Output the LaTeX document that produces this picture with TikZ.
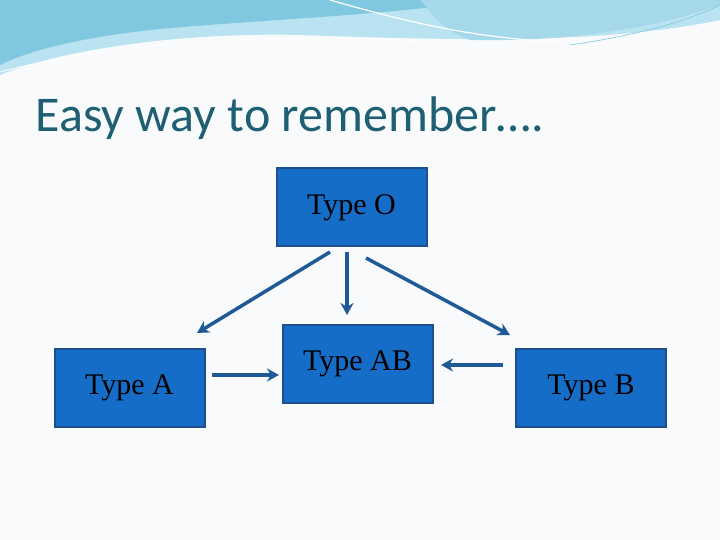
\documentclass[tikz,border=0pt]{standalone}
\usepackage{fontspec}
\usetikzlibrary{arrows.meta}
\setmainfont{Liberation Serif}
\newfontfamily\titlefont{Carlito}
\begin{document}
\begin{tikzpicture}[x=1pt,y=-1pt,
  box/.style={draw=boxedge,line width=2pt,fill=boxfill,minimum width=150pt,minimum height=78pt,inner sep=0pt,text=black,font=\fontsize{30}{34}\selectfont},
  arr/.style={draw=arrowc,line width=3.5pt,-{Stealth[length=12pt,width=13pt]}}]
\definecolor{boxfill}{HTML}{166DC8}
\definecolor{boxedge}{HTML}{1F4E8C}
\definecolor{arrowc}{HTML}{1F5A96}
\definecolor{titlec}{HTML}{1E5F74}
\definecolor{bg}{HTML}{F8FAFC}
\definecolor{wave1}{HTML}{7FC8E0}
\definecolor{wave2}{HTML}{B9E3F0}
\useasboundingbox (0,0) rectangle (720,540);
\fill[bg] (0,0) rectangle (720,540);
% header waves
\fill[wave2] (0,0) -- (720,0) -- (720,20) .. controls (600,45) and (450,40) .. (300,35) .. controls (180,32) and (60,50) .. (0,75) -- cycle;
\fill[wave1] (0,0) -- (480,0) .. controls (400,15) and (250,20) .. (150,30) .. controls (80,38) and (30,50) .. (0,65) -- cycle;
\fill[wave1!70] (420,0) -- (720,0) -- (720,5) .. controls (650,30) and (560,42) .. (470,40) .. controls (440,30) and (430,10) .. (420,0) -- cycle;
\draw[white,line width=1.2pt] (330,0) .. controls (400,20) and (470,38) .. (560,42);
\draw[white,line width=0.8pt] (0,72) .. controls (120,40) and (300,30) .. (480,45);
\draw[wave1,line width=0.6pt] (570,45) .. controls (640,35) and (690,20) .. (720,5);
\node[anchor=west,text=titlec,font=\titlefont\fontsize{50}{56}\selectfont] (title) at (32,118) {Easy way to remember\dots.};
\node[box] (o) at (351.5,207) {};
\node[font=\fontsize{30}{34}\selectfont] (ot) at (351.5,208) {Type O};
\node[box] (a) at (129.5,387.5) {Type A};
\node[box] (ab) at (357.5,363.5) {};
\node[font=\fontsize{30}{34}\selectfont] (abt) at (357.5,364) {Type AB};
\node[box] (b) at (591,387.5) {Type B};
\coordinate (o1) at (330,252); \coordinate (a1) at (197,333);
\coordinate (o2) at (347,252); \coordinate (ab1) at (347,315);
\coordinate (o3) at (366,258); \coordinate (b1) at (510,335);
\coordinate (a2) at (212,375); \coordinate (ab2) at (279,375);
\coordinate (b2) at (503,365); \coordinate (ab3) at (441,365);
\draw[arr] (o1) -- (a1);
\draw[arr] (o2) -- (ab1);
\draw[arr] (o3) -- (b1);
\draw[arr] (a2) -- (ab2);
\draw[arr] (b2) -- (ab3);
\end{tikzpicture}
\end{document}
